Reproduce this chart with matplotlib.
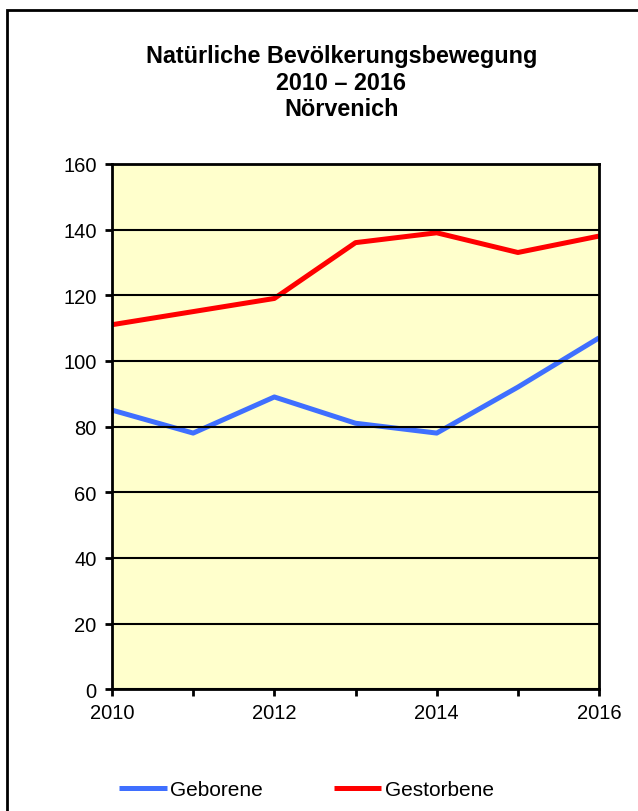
import matplotlib.pyplot as plt
from matplotlib.patches import Rectangle

plt.rcParams['font.family'] = ['Liberation Sans', 'DejaVu Sans']

jahre = [2010, 2011, 2012, 2013, 2014, 2015, 2016]
geborene = [85, 78, 89, 81, 78, 92, 107]
gestorbene = [111, 115, 119, 136, 139, 133, 138]
x_labels = ['2010', '', '2012', '', '2014', '', '2016']

fig = plt.figure(figsize=(6.38, 8.12), dpi=100)
ax = fig.add_axes([0.1755, 0.150, 0.7635, 0.647])

# outer frame
fig.patches.append(Rectangle((7/638, -0.05), 1.2, 1 - 11/812 + 0.05, transform=fig.transFigure,
                             fill=False, edgecolor='black', linewidth=2))

ax.set_facecolor('#FFFFCC')
ax.plot(jahre, geborene, color='#3F6FFF', linewidth=3.6, label='Geborene', solid_capstyle='butt')
ax.plot(jahre, gestorbene, color='#FF0000', linewidth=3.6, label='Gestorbene', solid_capstyle='butt')

ax.set_xlim(2010, 2016)
ax.set_ylim(0, 160)
ax.set_yticks(range(0, 161, 20))
ax.set_xticks(jahre)
ax.set_xticklabels(x_labels)
ax.yaxis.grid(True, color='black', linewidth=1.5)
ax.set_axisbelow(False)
for s in ax.spines.values():
    s.set_linewidth(2)
ax.tick_params(axis='both', labelsize=14.5, width=2, length=5, direction='out')
ax.tick_params(axis='y', pad=6)
ax.tick_params(axis='x', pad=5)

titel = ['Natürliche Bevölkerungsbewegung', '2010 – 2016', 'Nörvenich']
for i, zeile in enumerate(titel):
    fig.text(0.535, 1 - (57 + 26.5 * i)/812, zeile, ha='center', va='center',
             fontsize=16.8, fontweight='bold')

fig.legend(loc='center', bbox_to_anchor=(0.48, 1 - 791/812), ncol=2, frameon=False,
           fontsize=15, handlelength=2.3, handletextpad=0.15, columnspacing=3.4)

fig.savefig('out.png', dpi=100)
